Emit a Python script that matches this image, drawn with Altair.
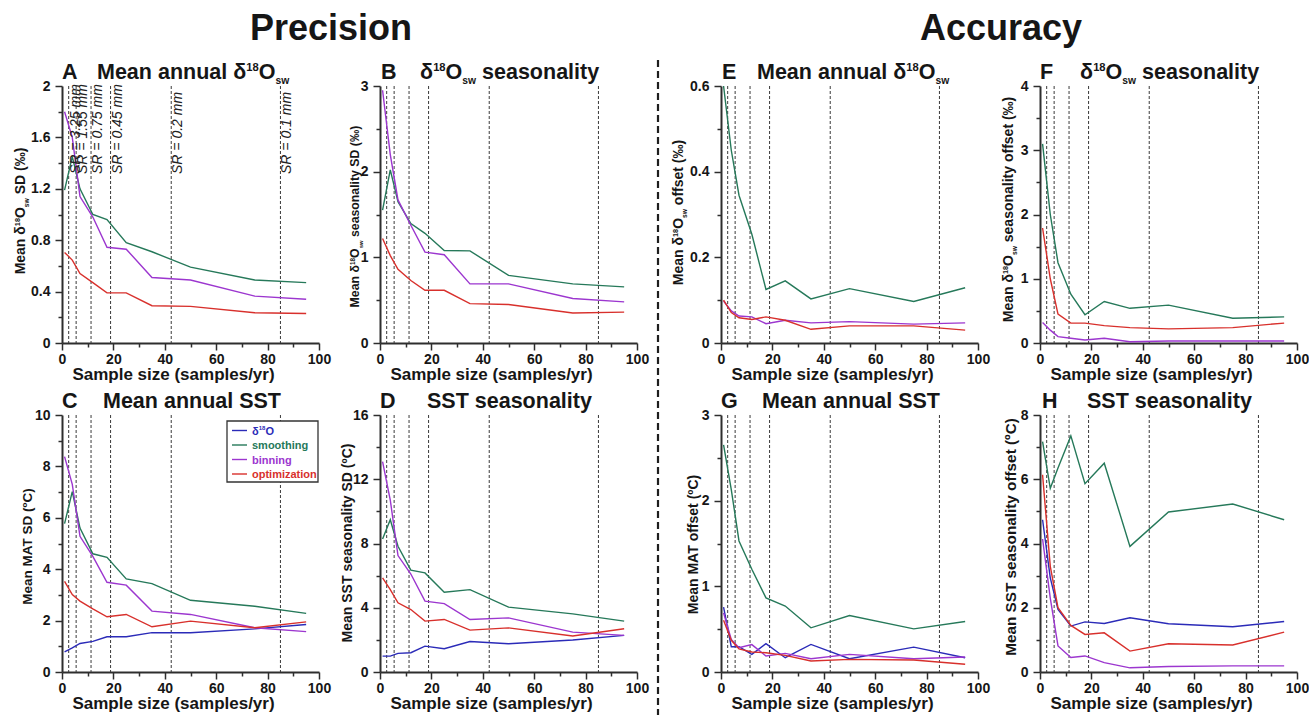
import altair as alt
import pandas as pd

FONT = "Liberation Sans"
INK = "#161616"
AXIS = "#2e2e2e"

SERIES = ["δ18O", "smoothing", "binning", "optimization"]
COLORS = ["#2b2bb8", "#26795a", "#9c36cf", "#d8302c"]

# sample sizes (samples/yr)
X = [1, 4, 7, 12, 17.5, 25, 35, 50, 75, 95]
X_MAJOR = [0, 20, 40, 60, 80, 100]
X_MINOR = [10, 30, 50, 70, 90]

# sampling-resolution reference lines
SR_X = [2.6, 5.5, 11.3, 18.9, 42.5, 85.0]
SR_LABEL = ["SR = 3.25 mm", "SR = 1.55 mm", "SR = 0.75 mm", "SR = 0.45 mm", "SR = 0.2 mm", "SR = 0.1 mm"]

# Panel A
A_SMOOTH = [1.19, 1.45, 1.20, 1.00, 0.96, 0.78, 0.71, 0.59, 0.49, 0.47]
A_BIN = [1.80, 1.60, 1.14, 0.98, 0.745, 0.73, 0.51, 0.49, 0.365, 0.34]
A_OPT = [0.705, 0.645, 0.54, 0.47, 0.39, 0.39, 0.29, 0.285, 0.235, 0.23]
# Panel B
B_SMOOTH = [1.55, 2.02, 1.65, 1.395, 1.28, 1.08, 1.075, 0.79, 0.69, 0.655]
B_BIN = [2.95, 2.2, 1.67, 1.375, 1.06, 1.03, 0.69, 0.69, 0.52, 0.48]
B_OPT = [1.22, 1.02, 0.86, 0.73, 0.615, 0.615, 0.46, 0.45, 0.35, 0.36]
# Panel C
C_D18O = [0.78, 0.94, 1.11, 1.19, 1.37, 1.37, 1.53, 1.53, 1.68, 1.85]
C_SMOOTH = [5.77, 7.02, 5.6, 4.6, 4.46, 3.62, 3.44, 2.79, 2.56, 2.28]
C_BIN = [8.38, 7.3, 5.28, 4.5, 3.49, 3.38, 2.37, 2.24, 1.72, 1.57]
C_OPT = [3.53, 3.01, 2.76, 2.46, 2.15, 2.24, 1.76, 1.98, 1.72, 1.95]
# Panel D
D_D18O = [0.99, 0.99, 1.16, 1.2, 1.61, 1.45, 1.9, 1.76, 1.99, 2.28]
D_SMOOTH = [8.28, 9.48, 7.83, 6.34, 6.17, 4.97, 5.13, 4.04, 3.62, 3.17]
D_BIN = [13.1, 10.7, 7.25, 6.1, 4.41, 4.26, 3.27, 3.37, 2.48, 2.28]
D_OPT = [5.86, 5.13, 4.31, 3.89, 3.17, 3.27, 2.61, 2.75, 2.24, 2.69]
# Panel E
E_SMOOTH = [0.6, 0.45, 0.345, 0.254, 0.125, 0.145, 0.103, 0.127, 0.097, 0.129]
E_BIN = [0.098, 0.075, 0.063, 0.061, 0.045, 0.053, 0.047, 0.05, 0.044, 0.047]
E_OPT = [0.1, 0.071, 0.059, 0.055, 0.061, 0.053, 0.032, 0.04, 0.04, 0.03]
# Panel F
F_SMOOTH = [3.1, 2.0, 1.25, 0.76, 0.44, 0.646, 0.54, 0.59, 0.385, 0.406]
F_BIN = [0.32, 0.2, 0.1, 0.073, 0.047, 0.073, 0.02, 0.03, 0.03, 0.03]
F_OPT = [1.79, 1.0, 0.45, 0.31, 0.31, 0.27, 0.24, 0.22, 0.24, 0.31]
# Panel G
G_D18O = [0.757, 0.295, 0.295, 0.206, 0.33, 0.167, 0.322, 0.155, 0.29, 0.167]
G_SMOOTH = [2.65, 2.13, 1.53, 1.2, 0.865, 0.77, 0.516, 0.66, 0.504, 0.59]
G_BIN = [0.69, 0.38, 0.283, 0.32, 0.186, 0.217, 0.155, 0.206, 0.155, 0.175]
G_OPT = [0.605, 0.37, 0.27, 0.233, 0.225, 0.194, 0.128, 0.147, 0.14, 0.09]
# Panel H
H_D18O = [4.74, 2.93, 1.95, 1.43, 1.56, 1.51, 1.69, 1.5, 1.41, 1.57]
H_SMOOTH = [7.17, 5.72, 6.35, 7.35, 5.86, 6.5, 3.91, 4.98, 5.23, 4.74]
H_BIN = [4.14, 2.3, 0.81, 0.45, 0.5, 0.29, 0.13, 0.17, 0.19, 0.19]
H_OPT = [6.14, 3.29, 2.0, 1.45, 1.17, 1.22, 0.65, 0.88, 0.84, 1.24]

PW = 257
PH = 257
TS = 21.5  # panel title size

ONE = pd.DataFrame({"k": [0]})

W = {' ': 278, '(': 333, ')': 333, '/': 278, '.': 278, '=': 584, '‰': 1000, 'º': 365, 'δ': 611,
     'A': 722, 'C': 722, 'D': 722, 'M': 833, 'O': 778, 'S': 667, 'T': 611,
     'a': 556, 'e': 556, 'f': 333, 'i': 278, 'l': 278, 'n': 611, 'o': 611, 's': 556, 't': 333,
     'u': 611, 'w': 778, 'y': 556, 'm': 889, 'p': 611, 'r': 389, 'z': 500, 'b': 611, 'g': 611,
     'h': 611, 'c': 556}
for d in "0123456789":
    W[d] = 556


def tw(t, s):
    return sum(W.get(c, 556) for c in t) * s / 1000.0


def txt(t, x, y, size, color=INK, weight="bold", align="left", baseline="alphabetic", angle=None, style="normal"):
    kw = dict(text=t, fontSize=size, font=FONT, fontWeight=weight, color=color,
              align=align, baseline=baseline, fontStyle=style)
    if angle is not None:
        kw["angle"] = angle
    return alt.Chart(ONE).mark_text(**kw).encode(x=alt.value(x), y=alt.value(y))


def layout_pieces(pieces):
    out, pos = [], 0.0
    for t, s, sh in pieces:
        lead = len(t) - len(t.lstrip(" "))
        out.append((t.strip(), s, sh, pos + tw(" " * lead, s)))
        pos += tw(t, s)
    return out, pos


def rich_h(pieces, x, y, color=INK):
    placed, _ = layout_pieces(pieces)
    return [txt(t, x + off, y - sh, s, color=color) for t, s, sh, off in placed]


def rich_v(pieces, cx, cy, color=INK):
    placed, total = layout_pieces(pieces)
    bx = cx + 0.36 * pieces[0][1]
    y0 = cy + total / 2.0
    return [txt(t, bx - sh, y0 - off, s, color=color, angle=270) for t, s, sh, off in placed]


def d18(prefix, suffix, s):
    p = [(prefix + "δ", s, 0), ("18", 0.52 * s, 0.36 * s), ("O", s, 0), ("sw", 0.48 * s, -0.25 * s)]
    if suffix:
        p.append((suffix, s, 0))
    return p


def plain(t, s):
    return [(t, s, 0)]


def panel(series, ymax, ymaj, ymin, cw, letter, ldx, tpieces, tx, ypieces, ycx, ycy, extras=()):
    rows = []
    for name, vals in series:
        for xv, yv in zip(X, vals):
            rows.append({"x": xv, "y": yv, "s": name})
    df = pd.DataFrame(rows)
    xs = alt.Scale(domain=[0, 100], range=[0, PW], nice=False)
    ys = alt.Scale(domain=[0, ymax], nice=False)

    rules = alt.Chart(pd.DataFrame({"x": SR_X})).mark_rule(
        strokeDash=[3, 2], strokeWidth=1, color="#3a3a3a"
    ).encode(x=alt.X("x:Q", scale=xs, axis=None), y=alt.value(0), y2=alt.value(PH))

    lines = alt.Chart(df).mark_line(strokeWidth=1.4).encode(
        x=alt.X("x:Q", scale=xs, axis=alt.Axis(
            values=X_MAJOR, format=".1~f", tickSize=7, labelPadding=2, orient="bottom",
            title="Sample size (samples/yr)", titleX=111, titleY=36.5, titleBaseline="alphabetic",
            titleAlign="center", labelFlush=False, labelOverlap=False)),
        y=alt.Y("y:Q", scale=ys, axis=alt.Axis(
            values=ymaj, format=".1~f", tickSize=7, labelPadding=5, orient="left", title=None,
            labelFlush=False, labelOverlap=False)),
        color=alt.Color("s:N", scale=alt.Scale(domain=SERIES, range=COLORS), legend=None),
    )

    minor = alt.Chart(df).mark_line(opacity=0).encode(
        x=alt.X("x:Q", scale=xs, axis=alt.Axis(values=X_MINOR, labels=False, domain=False,
                                                 tickSize=4, title=None, orient="bottom")),
        y=alt.Y("y:Q", scale=ys, axis=alt.Axis(values=ymin, labels=False, domain=False,
                                                 tickSize=4, title=None, orient="left")),
    )

    layers = [rules, lines, minor]
    layers.append(txt(letter, ldx, -7, TS))
    layers += rich_h(tpieces, tx, -7)
    layers += rich_v(ypieces, ycx, ycy)
    for e in extras:
        layers += e(xs)
    return alt.layer(*layers).resolve_axis(x="independent", y="independent").properties(width=cw, height=PH)


def extras_A(xs):
    sr = alt.Chart(pd.DataFrame({"x": SR_X, "t": SR_LABEL})).mark_text(
        angle=270, align="left", baseline="top", fontStyle="italic", fontSize=14, font=FONT, color="#222222"
    ).encode(x=alt.X("x:Q", scale=xs, axis=None), y=alt.value(88), text="t:N")
    head = txt("Precision", 269, -46, 36, align="center")
    pin = alt.Chart(ONE).mark_rule(color="white", strokeWidth=1).encode(
        x=alt.value(-61.5), y=alt.value(-85.5), x2=alt.value(-61.5), y2=alt.value(-84.5))
    return [sr, head, pin]


def extras_E(xs):
    head = txt("Accuracy", 280, -46, 36, align="center")
    div = alt.Chart(ONE).mark_rule(color="#1e1e1e", strokeWidth=2.2, strokeDash=[7, 4]).encode(
        x=alt.value(-63), y=alt.value(-26), y2=alt.value(629))
    return [head, div]


def extras_C(xs):
    out = [alt.Chart(ONE).mark_rect(fill="white", stroke="#333333", strokeWidth=1.3).encode(
        x=alt.value(165), x2=alt.value(256), y=alt.value(6), y2=alt.value(67))]
    for i, (name, col) in enumerate(zip(SERIES, COLORS)):
        yc = 15.5 + 14.5 * i
        out.append(alt.Chart(ONE).mark_rule(color=col, strokeWidth=1.4).encode(
            x=alt.value(170), x2=alt.value(185), y=alt.value(yc)))
        if name == "δ18O":
            out += rich_h([("δ", 11, 0), ("18", 6, 4.2), ("O", 11, 0)], 190, yc + 4, color=col)
        else:
            out.append(txt(name, 190, yc + 4, 11, color=col))
    return out


A = panel([("smoothing", A_SMOOTH), ("binning", A_BIN), ("optimization", A_OPT)],
          2, [0, 0.4, 0.8, 1.2, 1.6, 2], [0.2, 0.6, 1.0, 1.4, 1.8], 257,
          "A", 0, d18("Mean annual ", "", TS), 35, d18("Mean ", " SD (‰)", 14), -42, 125, [extras_A])
B = panel([("smoothing", B_SMOOTH), ("binning", B_BIN), ("optimization", B_OPT)],
          3, [0, 1, 2, 3], [0.5, 1.5, 2.5], 280,
          "B", 1, d18("", " seasonality", TS), 40, d18("Mean ", " seasonality SD (‰)", 12.3), -25, 130.5)
C = panel([("δ18O", C_D18O), ("smoothing", C_SMOOTH), ("binning", C_BIN), ("optimization", C_OPT)],
          10, [0, 2, 4, 6, 8, 10], [1, 3, 5, 7, 9], 257,
          "C", 0, plain("Mean annual SST", TS), 41, plain("Mean MAT SD (ºC)", 13.5), -34.5, 131, [extras_C])
D = panel([("δ18O", D_D18O), ("smoothing", D_SMOOTH), ("binning", D_BIN), ("optimization", D_OPT)],
          16, [0, 4, 8, 12, 16], [2, 6, 10, 14], 280,
          "D", 0, plain("SST seasonality", TS), 47, plain("Mean SST seasonality SD (ºC)", 14), -33, 128)
E = panel([("smoothing", E_SMOOTH), ("binning", E_BIN), ("optimization", E_OPT)],
          0.6, [0, 0.2, 0.4, 0.6], [0.1, 0.3, 0.5], 258,
          "E", 1, d18("Mean annual ", "", TS), 36, d18("Mean ", " offset (‰)", 14), -43, 126.5, [extras_E])
F = panel([("smoothing", F_SMOOTH), ("binning", F_BIN), ("optimization", F_OPT)],
          4, [0, 1, 2, 3, 4], [0.5, 1.5, 2.5, 3.5], 257,
          "F", 0, d18("", " seasonality", TS), 40, d18("Mean ", " seasonality offset (‰)", 14), -32, 123.5)
G = panel([("δ18O", G_D18O), ("smoothing", G_SMOOTH), ("binning", G_BIN), ("optimization", G_OPT)],
          3, [0, 1, 2, 3], [0.5, 1.5, 2.5], 258,
          "G", 0, plain("Mean annual SST", TS), 41, plain("Mean MAT offset (ºC)", 14), -28, 129)
H = panel([("δ18O", H_D18O), ("smoothing", H_SMOOTH), ("binning", H_BIN), ("optimization", H_OPT)],
          8, [0, 2, 4, 6, 8], [1, 3, 5, 7], 257,
          "H", 2, plain("SST seasonality", TS), 47, plain("Mean SST seasonality offset (ºC)", 15.3), -30, 122)

chart = alt.concat(
    A, B, E, F, C, D, G, H, columns=4,
    spacing={"row": 72, "column": 61}, bounds="flush",
).properties(padding=0, background="white").configure_view(stroke=None).configure_axis(
    domainColor=AXIS, domainWidth=2, tickColor=AXIS, tickWidth=1.5,
    labelFont=FONT, labelFontSize=14, labelFontWeight="bold", labelColor=INK,
    titleFont=FONT, titleFontSize=17, titleFontWeight="bold", titleColor=INK, grid=False,
)

chart.save("out.html", embed_options={"renderer": "svg", "actions": False})
